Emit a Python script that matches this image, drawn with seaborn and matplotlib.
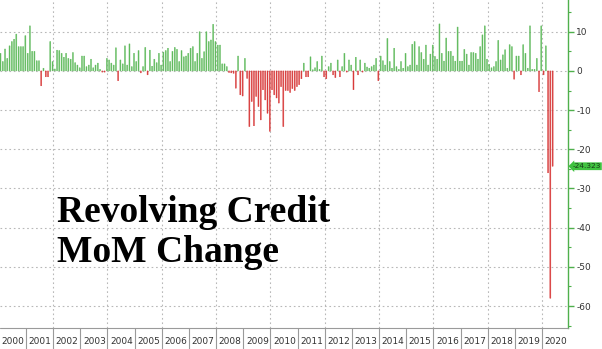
import numpy as np
import pandas as pd
import matplotlib
matplotlib.use("Agg")
import matplotlib.pyplot as plt
from matplotlib.lines import Line2D
from matplotlib.transforms import blended_transform_factory
import seaborn as sns

# ---- data (monthly change, $bn) ----
years = [str(y) for y in range(2000, 2021)]
v2000 = [4.5, 2.4, 5.6, 3.2, 6.4, 7.5, 8.1, 9.4, 6.2, 6.2, 6.2, 9.0]
v2001 = [4.5, 11.5, 5.0, 5.0, 2.6, 2.6, -3.8, 0.7, -1.5, -1.5, 7.5, 2.4]
v2002 = [0.5, 5.3, 5.2, 4.5, 3.5, 4.5, 3.2, 3.0, 4.7, 2.1, 1.5, 0.8]
v2003 = [3.8, 3.8, 1.1, 1.5, 3.0, 0.8, 1.5, 2.0, 0.4, -0.3, -0.3, 3.2]
v2004 = [2.8, 2.0, 1.5, 5.9, -2.5, 2.8, 1.8, 6.4, 1.5, 6.9, 1.1, 4.5]
v2005 = [2.4, 5.2, -0.5, 1.1, 6.0, -1.0, 5.3, 1.2, 3.0, 2.1, 4.5, 1.5]
v2006 = [4.8, 5.2, 5.8, 2.4, 5.0, 6.0, 5.5, 2.4, 5.2, 3.6, 3.8, 4.5]
v2007 = [5.8, 6.2, 2.4, 4.5, 10.0, 3.2, 4.9, 10.0, 7.5, 7.9, 11.9, 7.5]
v2008 = [6.6, 6.6, 1.8, 1.8, 1.1, -0.4, -0.5, -0.6, -4.4, 3.8, -6.1, -6.4]
v2009 = [3.2, -1.9, -14.2, -7.8, -14.0, -6.5, -9.1, -12.5, -4.8, -7.4, -10.8, -15.4]
v2010 = [-4.8, -6.1, -6.9, -8.2, -4.0, -14.2, -5.0, -5.0, -5.5, -4.5, -5.0, -4.0]
v2011 = [-3.5, -2.0, 2.0, -1.5, -1.5, 3.6, 0.3, 0.8, 2.4, 0.4, 3.8, -1.5]
v2012 = [-2.0, 1.1, 2.0, -1.0, -1.7, 2.8, -1.5, 1.1, 4.5, -0.3, 2.8, 1.5]
v2013 = [-4.8, 3.5, -1.0, 2.8, -0.3, 2.0, 1.0, 0.7, 1.1, 1.5, 3.2, -2.5]
v2014 = [3.8, 2.6, 1.5, 8.3, 2.4, 0.7, 5.8, 1.1, 0.4, 2.4, 0.7, 4.5]
v2015 = [1.1, 1.5, 6.8, 7.5, 1.5, 6.2, 4.7, 3.0, 6.6, 1.5, 4.3, 6.6]
v2016 = [3.7, 3.0, 12.0, 4.5, 2.5, 8.4, 5.0, 5.0, 3.8, 2.5, 11.2, 2.5]
v2017 = [2.5, 5.5, 4.3, 1.5, 4.7, 4.7, 4.5, 3.0, 6.2, 9.2, 11.5, 3.0]
v2018 = [1.7, 0.8, 1.1, 2.4, 7.8, 2.8, 4.1, 5.4, 0.7, 6.7, 6.2, -2.1]
v2019 = [3.8, 3.8, -1.0, 6.7, 4.5, 0.7, 11.5, 0.4, 0.4, 3.2, -5.3, 11.5]
v2020 = [-1.0, 6.4, -26.0, -58.0, -24.323]

values = (v2000 + v2001 + v2002 + v2003 + v2004 + v2005 + v2006 + v2007 +
          v2008 + v2009 + v2010 + v2011 + v2012 + v2013 + v2014 + v2015 +
          v2016 + v2017 + v2018 + v2019 + v2020)
last_value = v2020[-1]
yticks = [10, 0, -10, -20, -30, -40, -50, -60]
title_lines = ["Revolving Credit", "MoM Change"]

GREEN = "#5fba5c"
RED = "#d83a3a"
SPINE_GREEN = "#4fb04c"

df = pd.DataFrame({
    "month": np.arange(len(values)),
    "value": values,
    "sign": np.where(np.array(values) >= 0, "up", "down"),
})

sns.set_style("white")
W, H = 602, 349
fig = plt.figure(figsize=(W / 100, H / 100), dpi=100)
plot_bottom = 328
plot_right = 568
ax = fig.add_axes([0, 1 - plot_bottom / H, plot_right / W, plot_bottom / H])

sns.barplot(data=df, x="month", y="value", hue="sign",
            palette={"up": GREEN, "down": RED}, dodge=False, width=0.45,
            saturation=1, errorbar=None, legend=False, ax=ax, zorder=3)
for p in ax.patches:
    p.set_snap(False)
    p.set_edgecolor(p.get_facecolor())
    p.set_linewidth(0.3)

ax.set_xlim(-0.22, 250.8)
ax.set_ylim(-65.6, 18.1)

grid_kw = dict(color="#b8b8b8", lw=0.8, ls=(0, (1.5, 2.5)), zorder=0)
for yv in yticks:
    ax.axhline(yv, **grid_kw)
for k in range(2, 21, 2):
    ax.axvline(12 * k - 0.75, **grid_kw)

ax.set_xticks([])
ax.set_xlabel("")
ax.set_ylabel("")
ax.yaxis.tick_right()
ax.set_yticks(yticks)
ax.set_yticklabels([str(t) for t in yticks])
ax.set_yticks(np.arange(-65, 16, 5), minor=True)
ax.tick_params(axis="y", which="major", direction="out", length=4, width=1,
               color=SPINE_GREEN, labelcolor="#333333", labelsize=6.5, pad=2)
ax.tick_params(axis="y", which="minor", direction="out", length=2, width=0.8,
               color=SPINE_GREEN)
for s in ["top", "left", "bottom"]:
    ax.spines[s].set_visible(False)
ax.spines["right"].set_color(SPINE_GREEN)
ax.spines["right"].set_linewidth(1.0)

# last value label
tr = blended_transform_factory(ax.transAxes, ax.transData)
ax.text(1.008, last_value, f"{last_value:.3f}", transform=tr, fontsize=5.3,
        color="#1a3a1a", va="center", ha="left", clip_on=False,
        bbox=dict(boxstyle="larrow,pad=0.12", fc="#3fc23f", ec="none"))

# bottom year band
def fx(px):
    return px / W

def fy(py):
    return 1 - py / H

fig.add_artist(Line2D([fx(0), fx(plot_right)], [fy(plot_bottom), fy(plot_bottom)],
                      color="#9a9a9a", lw=0.8))
year_w = 27.16
for k, yr in enumerate(years):
    x0 = -1.2 + year_w * k
    if k > 0:
        fig.add_artist(Line2D([fx(x0), fx(x0)], [fy(plot_bottom), fy(H)],
                              color="#9a9a9a", lw=0.8))
    fig.text(fx(x0 + year_w / 2 + 0.5), fy(342), yr, fontsize=6.5,
             color="#333333", ha="center", va="center")

# title text
fig.text(fx(57), fy(222), title_lines[0], fontsize=27, fontweight="bold",
         family=["Liberation Serif", "DejaVu Serif"], color="black", va="baseline")
fig.text(fx(57), fy(262), title_lines[1], fontsize=27, fontweight="bold",
         family=["Liberation Serif", "DejaVu Serif"], color="black", va="baseline")

fig.savefig("out.png", dpi=100)
